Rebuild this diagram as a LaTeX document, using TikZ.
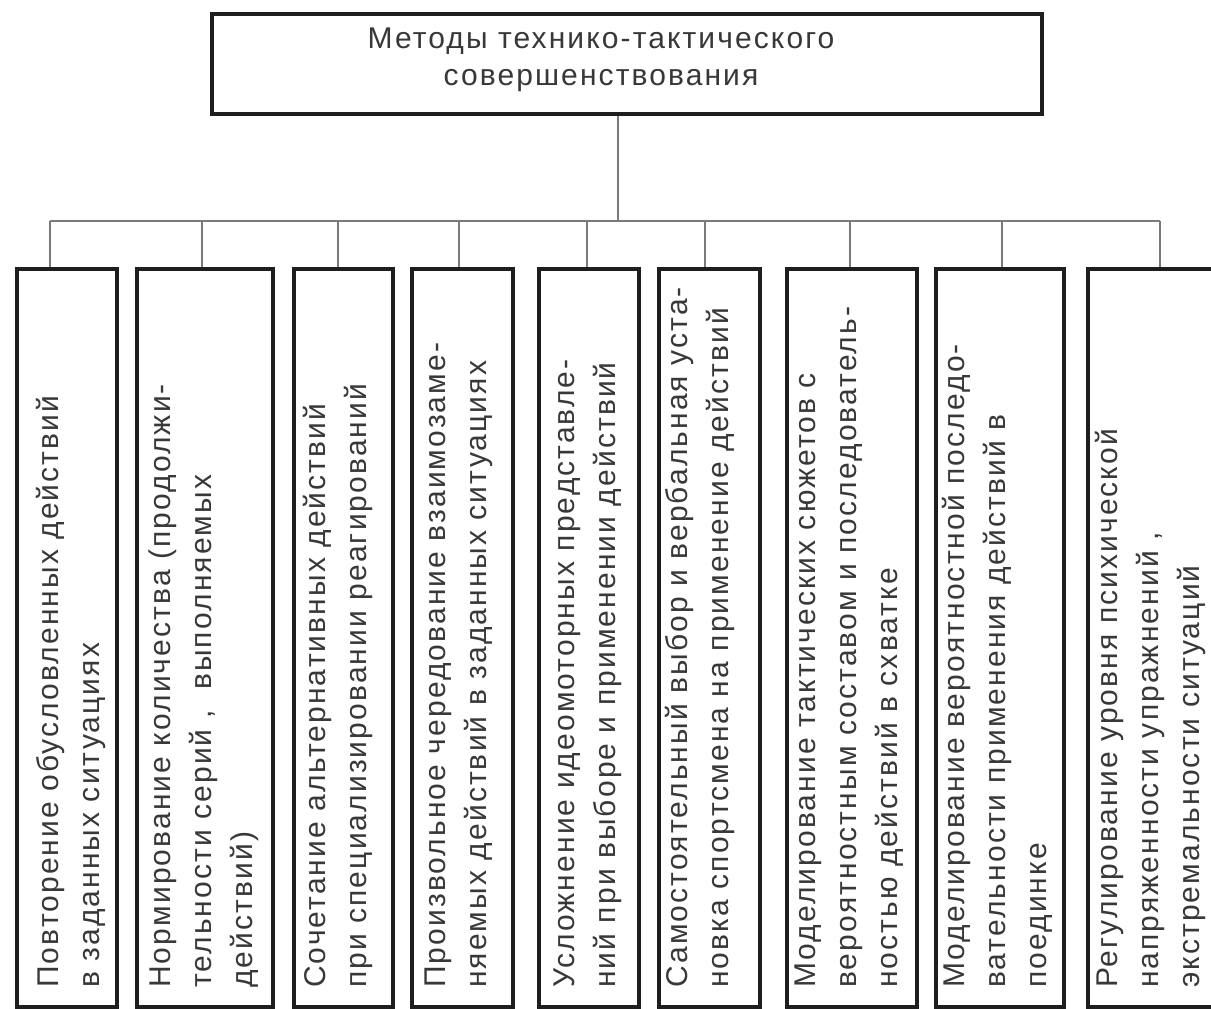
\documentclass[tikz,border=0pt]{standalone}
\usepackage{fontspec}
\setmainfont{Liberation Sans}[LetterSpace=7]
\definecolor{boxc}{HTML}{1E1E1E}
\definecolor{linec}{HTML}{7A7A7A}
\definecolor{textc}{HTML}{383838}
\begin{document}
\begin{tikzpicture}[x=1pt,y=-1pt,
  bx/.style={draw=boxc, line width=4pt, inner sep=0pt, anchor=north west},
  conn/.style={draw=linec, line width=2pt},
  txt/.style={text=textc, font=\fontsize{30}{41}\selectfont, align=left, rotate=90, anchor=north west, inner sep=0pt},
  toptxt/.style={text=textc, font=\fontsize{30}{37}\selectfont, align=center, inner sep=0pt}]
\fill[white] (0,0) rectangle (1211,1009);
\clip (0,0) rectangle (1211,1009);
% top box
\node[bx, minimum width=830pt, minimum height=100pt] (top) at (210,12) {};
\node[toptxt] (title) at (601,60) {Методы технико-тактического\\совершенствования};
% boxes
\node[bx, minimum width=100pt, minimum height=738pt] (b1) at (15,267) {};
\node[bx, minimum width=136pt, minimum height=738pt] (b2) at (135,267) {};
\node[bx, minimum width=99pt, minimum height=738pt] (b3) at (292,267) {};
\node[bx, minimum width=101pt, minimum height=738pt] (b4) at (410,267) {};
\node[bx, minimum width=100pt, minimum height=738pt] (b5) at (537,267) {};
\node[bx, minimum width=101pt, minimum height=738pt] (b6) at (657,267) {};
\node[bx, minimum width=130pt, minimum height=738pt] (b7) at (785,267) {};
\node[bx, minimum width=128pt, minimum height=738pt] (b8) at (934,267) {};
\node[bx, minimum width=154pt, minimum height=738pt] (b9) at (1086,267) {};
% texts
\node[txt] (t1) at (36,988) {Повторение обусловленных действий\\в заданных ситуациях};
\node[txt] (t2) at (149,988) {Нормирование количества (продолжи-\\тельности серий ,\ \ выполняемых\\действий)};
\node[txt] (t3) at (303,988) {Сочетание альтернативных действий\\при специализировании реагирований};
\node[txt] (t4) at (425,988) {Произвольное чередование взаимозаме-\\няемых действий в заданных ситуациях};
\node[txt] (t5) at (554,988) {Усложнение идеомоторных представле-\\ний при выборе и применении действий};
\node[txt] (t6) at (665,988) {Самостоятельный выбор и вербальная уста-\\новка спортсмена на применение действий};
\node[txt] (t7) at (795,988) {Моделирование тактических сюжетов с\\вероятностным составом и последователь-\\ностью действий в схватке};
\node[txt] (t8) at (942,988) {Моделирование вероятностной последо-\\вательности применения действий в\\поединке};
\node[txt] (t9) at (1095,988) {Регулирование уровня психической\\напряженности упражнений ,\\экстремальности ситуаций};
% connectors
\coordinate (bus) at (618,221);
\coordinate (k1) at (50,221);
\coordinate (k2) at (202,221);
\coordinate (k3) at (338,221);
\coordinate (k4) at (459,221);
\coordinate (k5) at (587,221);
\coordinate (k6) at (705,221);
\coordinate (k7) at (850,221);
\coordinate (k8) at (1002,221);
\coordinate (k9) at (1160,221);
\draw[conn] (top.south -| bus) -- (bus);
\draw[conn] (k1) -- (k9);
\draw[conn] (k1) -- (k1 |- b1.north);
\draw[conn] (k2) -- (k2 |- b2.north);
\draw[conn] (k3) -- (k3 |- b3.north);
\draw[conn] (k4) -- (k4 |- b4.north);
\draw[conn] (k5) -- (k5 |- b5.north);
\draw[conn] (k6) -- (k6 |- b6.north);
\draw[conn] (k7) -- (k7 |- b7.north);
\draw[conn] (k8) -- (k8 |- b8.north);
\draw[conn] (k9) -- (k9 |- b9.north);
\end{tikzpicture}
\end{document}
